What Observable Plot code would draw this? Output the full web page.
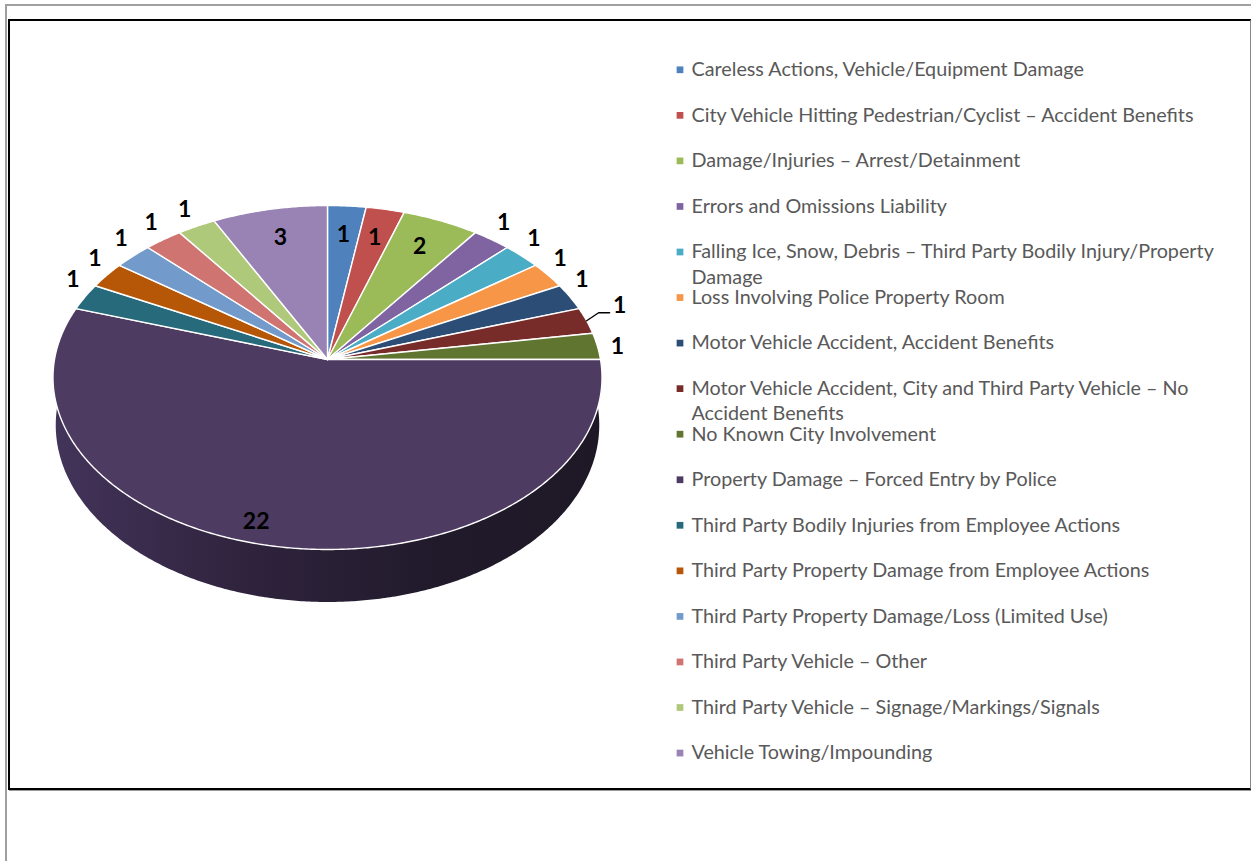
<!DOCTYPE html>
<html><head><meta charset="utf-8">
<script src="https://cdn.jsdelivr.net/npm/d3@7"></script>
<script src="https://cdn.jsdelivr.net/npm/@observablehq/plot@0.6"></script>
<style>
html,body{margin:0;padding:0;background:#fff;width:1251px;height:861px;overflow:hidden;}
#page{position:absolute;left:5px;top:4px;width:1260px;height:900px;border-top:2px solid #a0a0a0;border-left:2px solid #a0a0a0;box-sizing:border-box;}
#frame{position:absolute;left:8px;top:19px;width:1243px;height:771px;border-top:2px solid #000;border-left:2px solid #000;border-bottom:2px solid #000;border-right:1px solid #888;box-sizing:border-box;box-shadow:1px 1px 0 #999;}
#chart{position:absolute;left:0;top:0;}
</style></head><body>
<div id="page"></div><div id="frame"></div><div id="chart"></div>
<script>
const categories = [
  "Careless Actions, Vehicle/Equipment Damage",
  "City Vehicle Hitting Pedestrian/Cyclist – Accident Benefits",
  "Damage/Injuries – Arrest/Detainment",
  "Errors and Omissions Liability",
  "Falling Ice, Snow, Debris – Third Party Bodily Injury/Property Damage",
  "Loss Involving Police Property Room",
  "Motor Vehicle Accident, Accident Benefits",
  "Motor Vehicle Accident, City and Third Party Vehicle – No Accident Benefits",
  "No Known City Involvement",
  "Property Damage – Forced Entry by Police",
  "Third Party Bodily Injuries from Employee Actions",
  "Third Party Property Damage from Employee Actions",
  "Third Party Property Damage/Loss (Limited Use)",
  "Third Party Vehicle – Other",
  "Third Party Vehicle – Signage/Markings/Signals",
  "Vehicle Towing/Impounding"
];
const values = [1, 1, 2, 1, 1, 1, 1, 1, 1, 22, 1, 1, 1, 1, 1, 3];
const colors = ["#4f81bd","#c0504d","#9bbb59","#8064a2","#4bacc6","#f79646","#2c4d75","#772c2a","#5f7530","#4d3b62","#276a7c","#b65708","#729aca","#d07471","#afc97a","#9983b5"];

// ---- geometry of the tilted (perspective) pie ----
const W = 1251, H = 861;
const cx = 327, cy = 359, A = 273, B = 170.1, K = 0.1047, D = 47, SH = 0.99;
function proj(t, r = 1) {
  const u = r * Math.sin(t), v = -r * Math.cos(t), den = 1 - K * v;
  return [cx + A * u / den, cy + B * v / den];
}
function projBottom(t) {
  const u = Math.sin(t), v = -Math.cos(t), den = 1 - K * v;
  return [cx + SH * A * u / den, cy + (B * v + D) / den];
}
const total = d3.sum(values);
let acc = 0;
const slices = values.map((v, i) => {
  const a0 = acc / total * 2 * Math.PI; acc += v;
  const a1 = acc / total * 2 * Math.PI;
  return {cat: categories[i], value: v, a0, a1, mid: (a0 + a1) / 2};
});
const step = Math.PI / 360;
const sliceRows = [];
slices.forEach(s => {
  sliceRows.push({cat: s.cat, x: cx, y: cy});
  const n = Math.max(2, Math.ceil((s.a1 - s.a0) / step));
  for (let j = 0; j <= n; j++) {
    const [x, y] = proj(s.a0 + (s.a1 - s.a0) * j / n);
    sliceRows.push({cat: s.cat, x, y});
  }
});
const sideRows = [];
for (let t = Math.PI / 2; t <= 1.5 * Math.PI + 1e-9; t += step) { const [x, y] = proj(t); sideRows.push({x, y}); }
for (let t = 1.5 * Math.PI; t >= Math.PI / 2 - 1e-9; t -= step) { const [x, y] = projBottom(t); sideRows.push({x, y}); }

// ---- data labels ----
const labelRows = [], leaderRows = [];
slices.forEach((s, i) => {
  const c = Math.cos(s.mid), sn = Math.sin(s.mid), side = Math.sign(sn);
  const big = s.value / total > 0.3;
  if (c > 0.87 || big) {
    const [x, y] = big ? proj(s.mid + 0.11, 0.9) : proj(s.mid, 0.8);
    labelRows.push({x, y, text: String(s.value)});
  } else {
    const [px, py] = proj(s.mid, 1);
    if (Math.abs(c) < 0.1) labelRows.push({x: px + side * 20, y: py, text: String(s.value)});
    else if (Math.abs(c) < 0.3) {
      labelRows.push({x: px + side * 33, y: py - 15, text: String(s.value)});
      leaderRows.push({k: i, x: px, y: py}, {k: i, x: px + side * 12, y: py - 8}, {k: i, x: px + side * 23, y: py - 8});
    } else labelRows.push({x: px + side * 12, y: py - 17, text: String(s.value)});
  }
});

// ---- legend ----
const legendFont = "Lato, 'Open Sans', sans-serif";
const ctx = document.createElement("canvas").getContext("2d");
ctx.font = `17.6px ${legendFont}`;
const fit = 394 / ctx.measureText(categories[0]).width;
const legendSize = 17.6 * fit;
ctx.font = `${legendSize}px ${legendFont}`;
const wrapLimit = 535;
const legendSquares = [], legendLines = [];
categories.forEach((cat, i) => {
  const y0 = 69.3 + i * 45.55;
  legendSquares.push({cat, x: 679.5, y: y0});
  const words = cat.split(" ");
  let line = "", lines = [];
  for (const w of words) {
    const test = line ? line + " " + w : w;
    if (ctx.measureText(test).width > wrapLimit && line) { lines.push(line); line = w; } else line = test;
  }
  lines.push(line);
  lines.forEach((l, j) => legendLines.push({x: 691, y: y0 + j * 25.5, text: l}));
});

const chart = Plot.plot({
  width: W, height: H, margin: 0,
  style: {background: "transparent", overflow: "visible"},
  x: {domain: [0, W], range: [0, W], axis: null},
  y: {domain: [0, H], range: [0, H], axis: null},
  color: {domain: categories, range: colors},
  marks: [
    Plot.line(sideRows, {x: "x", y: "y", fill: "url(#sideGrad)", stroke: "none", curve: "linear-closed"}),
    Plot.line(sliceRows, {x: "x", y: "y", z: "cat", fill: "cat", stroke: "white", strokeWidth: 1.4, strokeLinejoin: "round", curve: "linear-closed"}),
    Plot.line(leaderRows, {x: "x", y: "y", z: "k", stroke: "black", strokeWidth: 1.4}),
    Plot.text(labelRows, {x: "x", y: "y", text: "text", fontSize: 23, fontWeight: "bold", fill: "black", fontFamily: "Lato, 'Liberation Sans', sans-serif"}),
    Plot.dot(legendSquares, {x: "x", y: "y", fill: "cat", symbol: "square", r: 3.8, stroke: "none"}),
    Plot.text(legendLines, {x: "x", y: "y", text: "text", textAnchor: "start", fontSize: legendSize, fill: "#595959", fontFamily: legendFont})
  ]
});
chart.insertAdjacentHTML("afterbegin",
  `<defs><linearGradient id="sideGrad" x1="0" x2="1" y1="0" y2="0">
     <stop offset="0" stop-color="#43345a"/>
     <stop offset="0.35" stop-color="#2f233d"/>
     <stop offset="0.7" stop-color="#211a2b"/>
     <stop offset="1" stop-color="#1e1826"/>
   </linearGradient></defs>`);
document.getElementById("chart").appendChild(chart);
</script>
</body></html>
